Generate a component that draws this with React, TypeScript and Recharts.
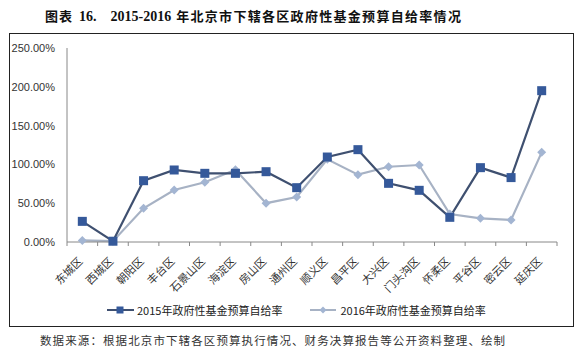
import { LineChart, Line, XAxis, YAxis } from "recharts"

const districts = [
  "东城区", "西城区", "朝阳区", "丰台区", "石景山区", "海淀区", "房山区", "通州区",
  "顺义区", "昌平区", "大兴区", "门头沟区", "怀柔区", "平谷区", "密云区", "延庆区",
]

const rate2015 = [26.6, 1.0, 79.0, 92.8, 88.5, 88.5, 90.6, 70.0, 109.5, 119.0, 75.6, 66.6, 31.8, 95.8, 83.0, 195.0]
const rate2016 = [2.0, 1.0, 43.4, 67.0, 77.0, 93.0, 50.0, 58.0, 106.5, 86.8, 97.0, 99.2, 36.0, 30.5, 28.4, 115.5]

const yTicks = [0, 50, 100, 150, 200, 250]

const label2015 = "2015年政府性基金预算自给率"
const label2016 = "2016年政府性基金预算自给率"

const CJK = "'Noto Sans CJK SC', 'Noto Sans', sans-serif"
const NUM = "'Liberation Sans', Arial, sans-serif"
const SERIF = "'Liberation Serif', 'Noto Sans CJK SC', serif"

const COLOR_2015_LINE = "#3f5070"
const COLOR_2015_DOT = "#35599a"
const COLOR_2016_LINE = "#a7b2c4"
const COLOR_2016_DOT = "#a3b5d2"

const data = districts.map((name, i) => ({
  name,
  y2015: rate2015[i],
  y2016: rate2016[i],
}))

const SquareDot = (props: any) => {
  const { cx, cy } = props
  if (cx == null || cy == null) return null
  return <rect x={cx - 4.5} y={cy - 4.5} width={9} height={9} fill={COLOR_2015_DOT} />
}

const DiamondDot = (props: any) => {
  const { cx, cy } = props
  if (cx == null || cy == null) return null
  const r = 4.5
  return (
    <polygon
      points={`${cx},${cy - r} ${cx + r},${cy} ${cx},${cy + r} ${cx - r},${cy}`}
      fill={COLOR_2016_DOT}
    />
  )
}

const CategoryTick = (props: any) => {
  const { x, y, payload, index } = props
  const half = payload && payload.offset ? payload.offset : 15.3
  return (
    <g>
      <line x1={x - half} y1={y - 8} x2={x - half} y2={y - 4} stroke="#888" />
      {index === districts.length - 1 && (
        <line x1={x + half} y1={y - 8} x2={x + half} y2={y - 4} stroke="#888" />
      )}
      <text
        x={x + 1}
        y={y + 12}
        transform={`rotate(-45, ${x + 1}, ${y + 12})`}
        textAnchor="end"
        fontSize={11}
        fontFamily={CJK}
        fill="#333"
      >
        {payload.value}
      </text>
    </g>
  )
}

export default function App() {
  return (
    <div style={{ position: "absolute", left: 0, top: 0, width: 581, height: 353, background: "#fff" }}>
      <div
        style={{
          position: "absolute",
          left: 45,
          top: 6,
          fontFamily: CJK,
          fontWeight: 700,
          fontSize: 13,
          color: "#111",
          whiteSpace: "nowrap",
        }}
      >
        <span style={{ letterSpacing: 1 }}>图表</span>
        <span style={{ fontFamily: SERIF, fontSize: 14, marginLeft: 6 }}>16.</span>
        <span style={{ fontFamily: SERIF, fontSize: 14, marginLeft: 14 }}>2015-2016</span>
        <span style={{ marginLeft: 5, letterSpacing: 1.3 }}>年北京市下辖各区政府性基金预算自给率情况</span>
      </div>

      <div
        style={{
          position: "absolute",
          left: 9,
          top: 33,
          width: 563,
          height: 292,
          border: "1px solid #222",
        }}
      />

      <div style={{ position: "absolute", left: 0, top: 0 }}>
        <LineChart width={581} height={353} data={data} margin={{ top: 48, right: 24, left: 0, bottom: 81 }}>
          <XAxis
            dataKey="name"
            scale="band"
            interval={0}
            height={30}
            tickLine={false}
            axisLine={{ stroke: "#888" }}
            tick={<CategoryTick />}
          />
          <YAxis
            domain={[0, 250]}
            ticks={yTicks}
            width={67}
            tickLine={false}
            tickMargin={6}
            axisLine={{ stroke: "#888" }}
            tick={{ fontSize: 11, fontFamily: NUM, fill: "#333" }}
            tickFormatter={(v: number) => `${v.toFixed(2)}%`}
          />
          <Line
            dataKey="y2016"
            stroke={COLOR_2016_LINE}
            strokeWidth={2.2}
            dot={<DiamondDot />}
            activeDot={false}
            isAnimationActive={false}
          />
          <Line
            dataKey="y2015"
            stroke={COLOR_2015_LINE}
            strokeWidth={2.2}
            dot={<SquareDot />}
            activeDot={false}
            isAnimationActive={false}
          />
        </LineChart>
      </div>

      <div style={{ position: "absolute", left: 107, top: 302, display: "flex", alignItems: "center", fontFamily: CJK, fontSize: 11, color: "#222", whiteSpace: "nowrap" }}>
        <svg width={28} height={14}>
          <line x1={0} y1={7} x2={27} y2={7} stroke={COLOR_2015_LINE} strokeWidth={2} />
          <rect x={9.5} y={3.5} width={7} height={7} fill={COLOR_2015_DOT} />
        </svg>
        <span style={{ marginLeft: 2 }}>{label2015}</span>
        <svg width={28} height={14} style={{ marginLeft: 28 }}>
          <line x1={0} y1={7} x2={26} y2={7} stroke={COLOR_2016_LINE} strokeWidth={2} />
          <polygon points="13,3.5 16.5,7 13,10.5 9.5,7" fill={COLOR_2016_DOT} />
        </svg>
        <span style={{ marginLeft: 2 }}>{label2016}</span>
      </div>

      <div
        style={{
          position: "absolute",
          left: 40,
          top: 332,
          fontFamily: CJK,
          fontSize: 11.5,
          letterSpacing: 1.1,
          color: "#333",
          whiteSpace: "nowrap",
        }}
      >
        数据来源：根据北京市下辖各区预算执行情况、财务决算报告等公开资料整理、绘制
      </div>
    </div>
  )
}
